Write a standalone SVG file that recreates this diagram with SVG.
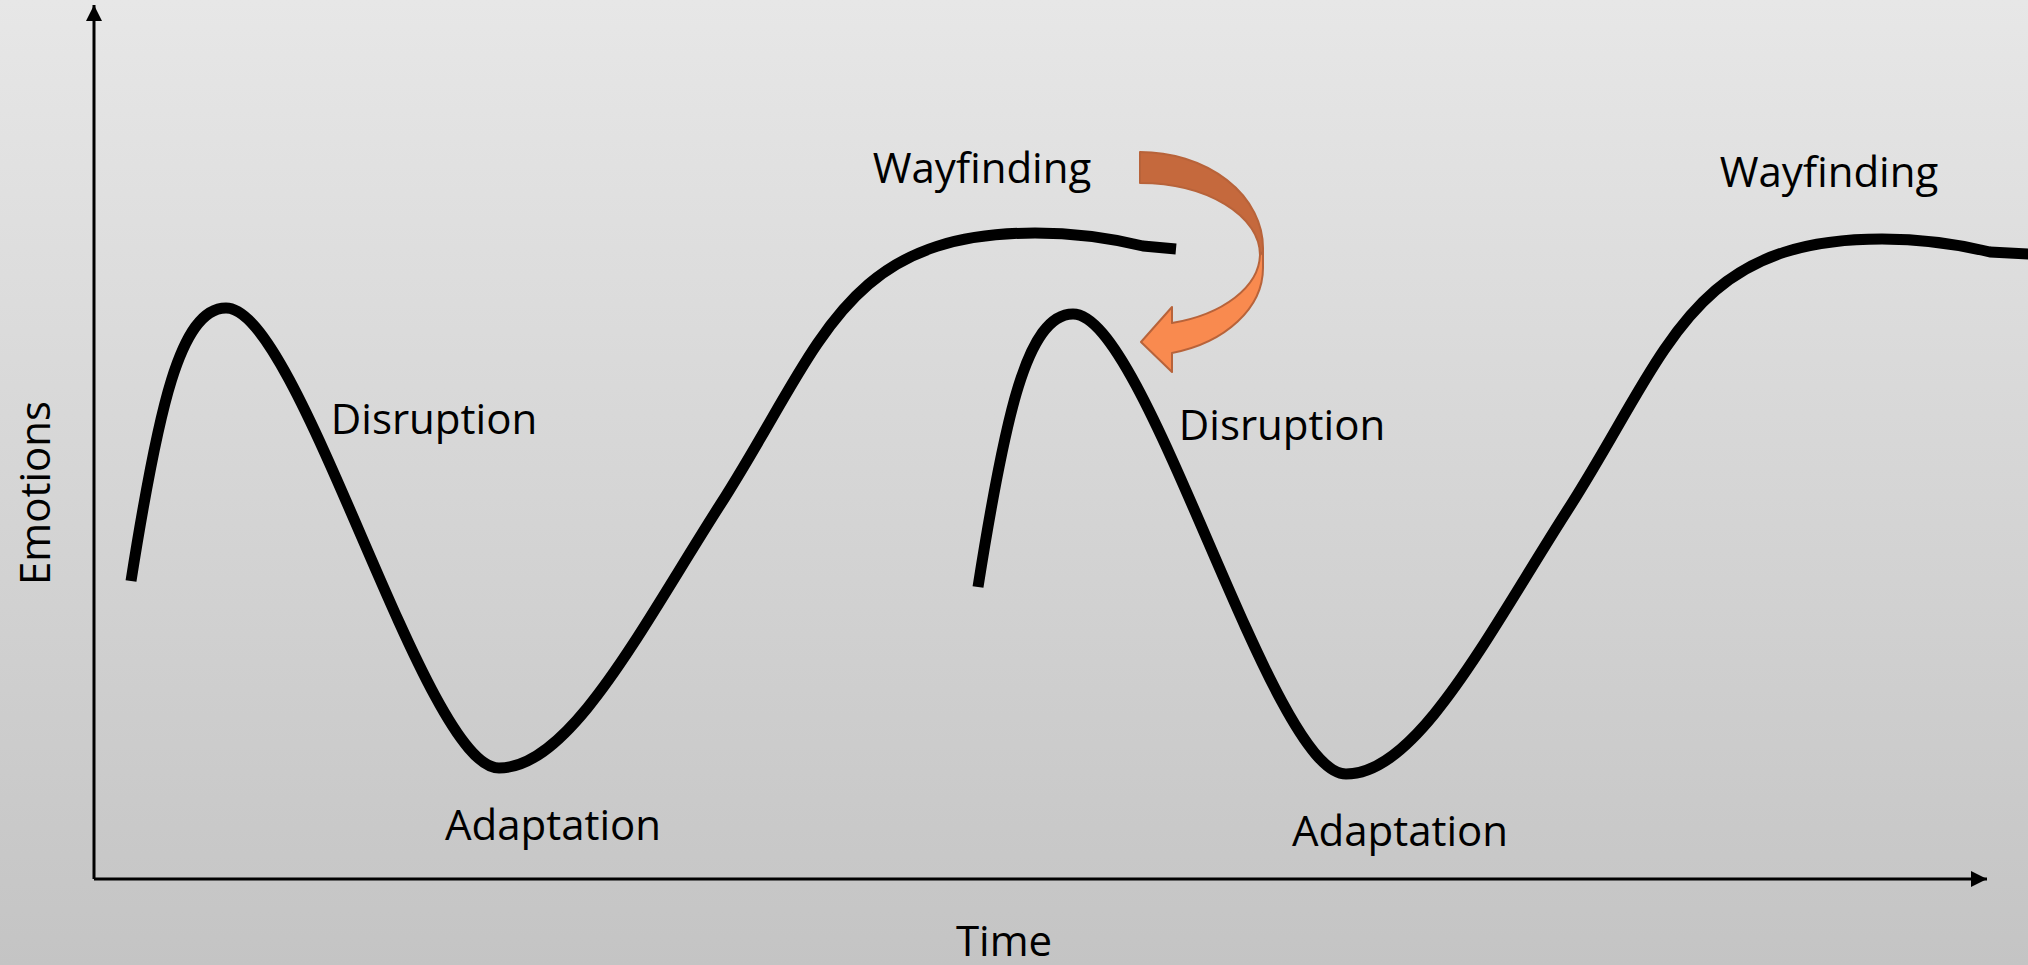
<svg xmlns="http://www.w3.org/2000/svg" width="2028" height="965" viewBox="0 0 2028 965">
  <defs>
    <linearGradient id="bg" x1="0" y1="0" x2="0" y2="1">
      <stop offset="0" stop-color="#e7e7e7"/>
      <stop offset="1" stop-color="#c4c4c4"/>
    </linearGradient>
    <marker id="arrow" markerUnits="userSpaceOnUse" markerWidth="18" markerHeight="16" refX="16" refY="8" orient="auto">
      <path d="M0,0 L16,8 L0,16 Z" fill="#000"/>
    </marker>
    <style>
      .lbl { font-family: "Open Sans", "Liberation Sans", sans-serif; font-size: 42px; fill: #000; text-anchor: middle; }
      .curve { fill: none; stroke: #000; stroke-width: 11; stroke-linejoin: round; stroke-linecap: butt; }
      .axis { fill: none; stroke: #000; stroke-width: 3; }
    </style>
  </defs>
  <rect x="0" y="0" width="2028" height="965" fill="url(#bg)"/>

  <g id="axes">
    <line class="axis" x1="94" y1="879" x2="94" y2="5" marker-end="url(#arrow)"/>
    <line class="axis" x1="94" y1="879" x2="1987" y2="879" marker-end="url(#arrow)"/>
  </g>

  <g id="connectors">
    <path id="wave1" class="curve" d="M131,581 C158,410 180,308 226,308 C300,308 424,768 499,768 C570,768 640,630 720,505 C822,346 842,233 1035,233 C1075,233 1110,238 1143,246 L1176,249"/>
    <path id="wave2" class="curve" transform="translate(847,6)" d="M131,581 C158,410 180,308 226,308 C300,308 424,768 499,768 C570,768 640,630 720,505 C822,346 842,233 1035,233 C1075,233 1110,238 1143,246 L1200,249"/>
  </g>

  <g id="curved-arrow" stroke="#b8633a" stroke-width="2" stroke-linejoin="round">
    <path d="M1140,152 A123,96 0 0 1 1263,248 L1263,252 L1260,255 A120,72 0 0 0 1140,183 Z" fill="#c5693d"/>
    <path d="M1260,255 A120,72 0 0 1 1172,323 L1172,307 L1141,342 L1172,372 L1172,353 A123,88 0 0 0 1263,268 L1263,252 Z" fill="#f98a4f"/>
  </g>

  <g id="label-wayfinding-1"><text class="lbl" x="982" y="183">Wayfinding</text></g>
  <g id="label-disruption-1"><text class="lbl" x="434" y="434">Disruption</text></g>
  <g id="label-adaptation-1"><text class="lbl" x="553" y="840">Adaptation</text></g>
  <g id="label-wayfinding-2"><text class="lbl" x="1829" y="187">Wayfinding</text></g>
  <g id="label-disruption-2"><text class="lbl" x="1282" y="440">Disruption</text></g>
  <g id="label-adaptation-2"><text class="lbl" x="1400" y="846">Adaptation</text></g>
  <g id="label-time"><text class="lbl" x="1004" y="956">Time</text></g>
  <g id="label-emotions"><text class="lbl" transform="translate(50,493) rotate(-90)" x="0" y="0">Emotions</text></g>
</svg>
